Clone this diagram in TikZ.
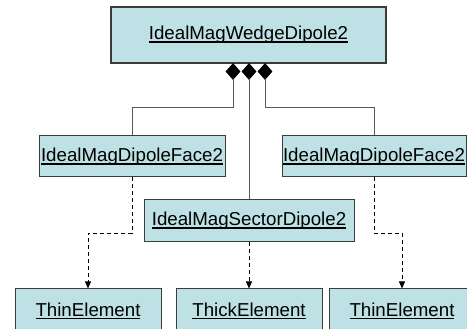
\documentclass[tikz,border=0pt]{standalone}
\usepackage{fontspec}
\setmainfont{Liberation Sans}
\usetikzlibrary{arrows.meta,shapes.geometric}
\definecolor{boxfill}{RGB}{189,225,228}
\definecolor{boxline}{RGB}{60,60,60}
\definecolor{conn}{RGB}{90,90,90}
\newcommand\myul[1]{\setbox0\hbox{#1}\rlap{\rule[-3.2pt]{\wd0}{1.6pt}}\box0}
\begin{document}
\begin{tikzpicture}[x=1pt,y=-1pt,
  umlbox/.style={draw=boxline, fill=boxfill, line width=1pt, inner sep=0pt,
    font=\fontsize{18.7}{22}\selectfont},
  comp/.style={draw=conn, line width=1pt},
  dep/.style={draw=black, line width=1pt, dash pattern=on 4pt off 3pt,
    -{Triangle[width=6pt,length=7pt]}},
  dia/.style={diamond, fill=black, inner sep=0pt, minimum width=15pt, minimum height=17pt}]
\useasboundingbox (0,0) rectangle (467,329);
\clip (0,0) rectangle (467,329);
\node[umlbox, line width=1.5pt, minimum width=275pt, minimum height=56pt] (wedge) at (248.5,35) {\myul{IdealMagWedgeDipole2}};
\node[umlbox, minimum width=186pt, minimum height=41pt] (faceL) at (132,156.5) {\myul{IdealMagDipoleFace2}};
\node[umlbox, minimum width=184pt, minimum height=41pt] (faceR) at (374,156.5) {\myul{IdealMagDipoleFace2}};
\node[umlbox, minimum width=210pt, minimum height=42pt] (sector) at (249,221) {\myul{IdealMagSectorDipole2}};
\node[umlbox, minimum width=146pt, minimum height=44pt] (thinL) at (88,311) {\myul{ThinElement}};
\node[umlbox, minimum width=146pt, minimum height=44pt] (thick) at (249,311) {\myul{ThickElement}};
\node[umlbox, minimum width=146pt, minimum height=44pt] (thinR) at (402,311) {\myul{ThinElement}};
\node[dia] (d1) at (233,71.5) {};
\node[dia] (d2) at (249,71.5) {};
\node[dia] (d3) at (265,71.5) {};
\draw[comp] (d1.south) -- ++(0,27) -| (faceL.north);
\draw[comp] (d2.south) -- (sector.north);
\draw[comp] (d3.south) -- ++(0,27) -| (faceR.north);
\draw[dep] (faceL.south) -- ++(0,56) -| (thinL.north);
\draw[dep] (faceR.south) -- ++(0,56) -| (thinR.north);
\draw[dep] (sector.south) -- (thick.north);
\end{tikzpicture}
\end{document}
